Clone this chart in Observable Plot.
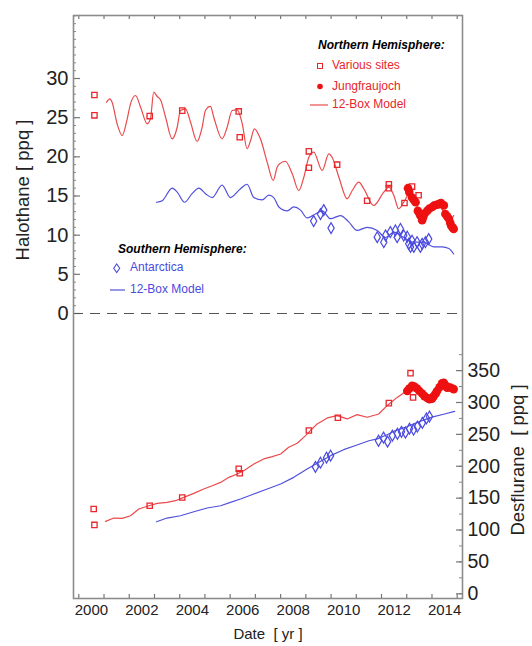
<!DOCTYPE html>
<html>
<head>
<meta charset="utf-8">
<script src="https://cdn.jsdelivr.net/npm/d3@7"></script>
<script src="https://cdn.jsdelivr.net/npm/@observablehq/plot@0.6"></script>
<style>
  html, body { margin: 0; padding: 0; background: #fff; }
  svg { display: block; }
</style>
</head>
<body>
<div id="chart"></div>
<script>
// ---------- DATA ----------
// Halothane [ppq] — Northern Hemisphere, various sites (flask samples)
const halSites = [[2000.62,27.9],[2000.62,25.3],[2002.81,25.2],[2004.10,25.9],[2006.34,25.8],[2006.38,22.5],[2009.12,20.7],[2009.12,18.6],[2010.24,19.0],[2011.43,14.4],[2012.29,16.5],[2012.29,16.0],[2012.91,14.1],[2013.21,16.2],[2013.47,15.1]];
// Halothane — Jungfraujoch in-situ
const halJFJ = [[2013.05,16.0],[2013.10,15.5],[2013.21,14.8],[2013.28,14.5],[2013.35,14.2],[2013.44,13.1],[2013.50,12.8],[2013.54,12.5],[2013.61,11.9],[2013.65,12.3],[2013.72,12.8],[2013.81,13.1],[2013.90,13.4],[2014.01,13.6],[2014.10,13.8],[2014.21,13.9],[2014.30,14.0],[2014.36,14.1],[2014.47,13.8],[2014.53,12.7],[2014.60,12.4],[2014.67,12.1],[2014.72,11.6],[2014.76,11.2],[2014.81,11.0],[2014.86,10.8]];
// Halothane — 12-box model, Northern Hemisphere
const halNModel = [[2001.10,26.98],[2001.23,27.41],[2001.32,26.98],[2001.52,24.22],[2001.72,22.72],[2001.92,24.86],[2002.05,26.77],[2002.25,27.83],[2002.45,26.34],[2002.71,24.22],[2002.84,24.86],[2002.97,28.25],[2003.11,27.70],[2003.24,27.28],[2003.44,25.06],[2003.70,22.30],[2003.90,23.78],[2004.03,25.92],[2004.23,26.13],[2004.43,24.42],[2004.69,21.96],[2004.89,23.78],[2005.02,25.92],[2005.22,26.43],[2005.35,25.06],[2005.68,22.30],[2005.88,23.78],[2006.08,25.92],[2006.28,26.00],[2006.48,24.22],[2006.67,21.03],[2006.81,22.09],[2006.96,23.58],[2007.20,22.30],[2007.47,19.3],[2007.71,16.98],[2007.86,18.68],[2008.00,19.2],[2008.19,19.44],[2008.46,17.84],[2008.72,15.70],[2008.92,17.40],[2009.12,19.95],[2009.31,20.59],[2009.65,18.26],[2009.91,20.39],[2010.04,19.95],[2010.31,17.40],[2010.64,14.64],[2010.84,15.70],[2011.10,16.76],[2011.30,15.92],[2011.69,13.79],[2012.09,15.49],[2012.29,16.12],[2012.49,15.06],[2012.68,13.37],[2012.88,14.21],[2013.15,15.49],[2013.60,12.5],[2014.00,13.8],[2014.20,14.0],[2014.60,12.2],[2014.70,11.8],[2014.86,12.5]];
// Halothane — Antarctica
const halAnt = [[2009.31,11.8],[2009.58,12.7],[2009.71,13.2],[2010.00,10.9],[2011.83,9.75],[2012.09,9.1],[2012.16,9.96],[2012.35,10.4],[2012.55,10.6],[2012.62,9.75],[2012.75,10.8],[2012.88,9.96],[2013.02,9.8],[2013.08,8.9],[2013.15,8.5],[2013.21,9.3],[2013.28,8.5],[2013.41,9.1],[2013.54,8.5],[2013.61,8.9],[2013.74,9.1],[2013.87,9.5]];
// Halothane — 12-box model, Southern Hemisphere
const halSModel = [[2003.08,14.2],[2003.31,14.4],[2003.70,16.0],[2003.90,15.5],[2004.19,14.2],[2004.49,15.3],[2004.76,16.0],[2005.02,15.3],[2005.29,14.8],[2005.68,16.4],[2006.01,14.8],[2006.40,15.9],[2006.67,16.5],[2006.94,14.8],[2007.27,14.5],[2007.53,15.1],[2007.73,14.8],[2007.93,13.6],[2008.26,13.1],[2008.52,13.6],[2008.79,13.2],[2009.05,12.2],[2009.38,12.7],[2009.65,13.1],[2009.98,12.1],[2010.37,12.5],[2010.70,11.7],[2011.03,10.6],[2011.43,11.0],[2011.83,10.6],[2012.16,9.7],[2012.49,10.4],[2012.88,9.7],[2013.28,9.1],[2013.67,9.1],[2014.07,8.5],[2014.40,8.5],[2014.67,8.3],[2014.86,7.6]];

// Desflurane [ppq] — various sites
const desSites = [[2000.59,133],[2000.62,108],[2002.81,138],[2004.10,151],[2006.34,196],[2006.38,189],[2009.12,256],[2010.27,276],[2012.29,299],[2013.15,346],[2013.25,308]];
// Desflurane — Jungfraujoch
const desJFJ = [[2013.02,318],[2013.10,322],[2013.21,326],[2013.30,325],[2013.41,322],[2013.50,318],[2013.61,314],[2013.70,310],[2013.81,307],[2013.90,305],[2014.00,306],[2014.07,310],[2014.15,314],[2014.20,318],[2014.30,324],[2014.40,330],[2014.47,331],[2014.53,327],[2014.60,323],[2014.67,324],[2014.75,323],[2014.86,321]];
// Desflurane — 12-box model NH
const desNModel = [[2001.06,113.5],[2001.39,118.8],[2001.72,118.2],[2002.05,122.4],[2002.38,133],[2002.78,138],[2003.11,141.8],[2003.50,143.3],[2003.83,146],[2004.16,151.2],[2004.56,157.5],[2004.95,164.4],[2005.29,169.5],[2005.62,174.7],[2005.95,182.6],[2006.28,187.9],[2006.54,193.1],[2006.94,203.6],[2007.33,211.5],[2007.67,215],[2008.00,219.3],[2008.32,229.7],[2008.66,236],[2008.99,248],[2009.18,256],[2009.45,266.4],[2009.85,275.8],[2010.24,279.4],[2010.64,274.2],[2011.03,281],[2011.43,276.8],[2011.89,282],[2012.22,295],[2012.62,308],[2013.02,318.7],[2013.50,318],[2014.00,310],[2014.40,325],[2014.86,322]];
// Desflurane — Antarctica
const desAnt = [[2009.38,199],[2009.58,205.6],[2009.82,213.5],[2009.98,216.6],[2011.88,240],[2012.08,245],[2012.24,238.6],[2012.43,248],[2012.63,251],[2012.79,254],[2012.95,252.7],[2013.11,259],[2013.27,257.5],[2013.42,262],[2013.62,268],[2013.78,275],[2013.90,278]];
// Desflurane — 12-box model SH
const desSModel = [[2003.08,113],[2003.50,118.8],[2004.03,122.4],[2004.56,128.7],[2005.09,134.5],[2005.62,138.1],[2006.01,143.3],[2006.41,148.7],[2006.94,156.5],[2007.47,164.4],[2008.00,172.2],[2008.52,182.6],[2009.05,195.8],[2009.50,206],[2010.00,217],[2010.50,226],[2011.00,233],[2011.50,240],[2011.83,243],[2012.20,249],[2012.50,255],[2013.00,262],[2013.50,270],[2014.00,277],[2014.50,282],[2014.90,286]];

// Tick values / labels
const yearTicks = d3.range(2000, 2016);           // tick marks each year
const yearLabels = [2000,2002,2004,2006,2008,2010,2012,2014];
const halMajor = [0,5,10,15,20,25,30];
const halMinor = d3.range(0, 39, 1);
const desMajor = [0,50,100,150,200,250,300,350];
const desMinor = d3.range(0, 376, 25);

// ---------- LAYOUT ----------
const W = 532, H = 646;
const mL = 73, mR = 70, mT = 15, mB = 48;
const FW = W - mL - mR, FH = H - mT - mB;
const xDomain = [1999.79, 2015.21];
// left (halothane) scale: 0 ppq at pixel 313, 7.833 px per ppq
const H0 = 313, pxH = 7.833;
const yDomain = [(H0 - (H - mB)) / pxH, (H0 - mT) / pxH];
// right (desflurane) axis: 0 ppq at pixel 593.3, 0.6377 px per ppq, expressed in halothane units
const D0 = 593.3, pxD = 0.6377;
const desToH = d => (H0 - (D0 - d * pxD)) / pxH;

const RED = "#e8262b", RED_LINE = "#ea4a4c", RED_DOT = "#ee1111";
const BLUE = "#4a4ae0", BLUE_LINE = "#5050dc";
const FONT = "'Liberation Sans', Arial, Helvetica, sans-serif";

const P = d => d[0], V = d => d[1], DV = d => desToH(d[1]);

const plot = Plot.plot({
  width: W, height: H,
  marginLeft: mL, marginRight: mR, marginTop: mT, marginBottom: mB,
  x: {domain: xDomain, axis: null},
  y: {domain: yDomain, axis: null},
  style: {fontFamily: FONT, background: "white", color: "#222", overflow: "visible"},
  marks: [
    // ticks
    Plot.tickX(yearTicks, {x: d => d, insetBottom: FH - 4, stroke: "#777", strokeWidth: 1.2}),
    Plot.tickX(yearTicks, {x: d => d, insetTop: FH - 4, stroke: "#777", strokeWidth: 1.2}),
    Plot.tickY(halMinor, {y: d => d, insetRight: FW - 3, stroke: "#888", strokeWidth: 1}),
    Plot.tickY(halMajor, {y: d => d, insetRight: FW - 7, stroke: "#777", strokeWidth: 1.2}),
    Plot.tickY(desMinor, {y: d => desToH(d), insetLeft: FW - 3, stroke: "#888", strokeWidth: 1}),
    Plot.tickY(desMajor, {y: d => desToH(d), insetLeft: FW - 6, stroke: "#777", strokeWidth: 1.2}),
    // zero line
    Plot.ruleY([0], {stroke: "#555", strokeWidth: 1.2, strokeDasharray: "10,7"}),
    // halothane
    Plot.line(halNModel, {x: P, y: V, stroke: RED_LINE, strokeWidth: 1.2, curve: "monotone-x"}),
    Plot.line(halSModel, {x: P, y: V, stroke: BLUE_LINE, strokeWidth: 1.2, curve: "monotone-x"}),
    Plot.dot(halAnt, {x: P, y: V, symbol: "diamond", r: 3.3, stroke: BLUE, fill: "none", strokeWidth: 1.2}),
    Plot.dot(halSites, {x: P, y: V, symbol: "square", r: 3.0, stroke: RED, fill: "none", strokeWidth: 1.3}),
    Plot.dot(halJFJ, {x: P, y: V, r: 4.3, fill: RED_DOT, stroke: "none"}),
    // desflurane
    Plot.line(desNModel, {x: P, y: DV, stroke: RED_LINE, strokeWidth: 1.2}),
    Plot.line(desSModel, {x: P, y: DV, stroke: BLUE_LINE, strokeWidth: 1.2}),
    Plot.dot(desAnt, {x: P, y: DV, symbol: "diamond", r: 3.3, stroke: BLUE, fill: "none", strokeWidth: 1.2}),
    Plot.dot(desSites, {x: P, y: DV, symbol: "square", r: 3.0, stroke: RED, fill: "none", strokeWidth: 1.3}),
    Plot.dot(desJFJ, {x: P, y: DV, r: 4.3, fill: RED_DOT, stroke: "none"}),
    // frame
    Plot.frame({stroke: "#8c8c8c", strokeWidth: 1.6}),
    // tick labels
    Plot.text(halMajor, {y: d => d, frameAnchor: "left", dx: -5, textAnchor: "end", text: d => String(d), fontSize: 20, fill: "#222"}),
    Plot.text(desMajor, {y: d => desToH(d), frameAnchor: "right", dx: 5, textAnchor: "start", text: d => String(d), fontSize: 19.5, fill: "#222"}),
    Plot.text(yearLabels, {x: d => d + 0.5, frameAnchor: "bottom", dy: 16, text: d => String(d), fontSize: 15, fill: "#222"}),
    Plot.text(["Date  [ yr ]"], {frameAnchor: "bottom", dy: 40, fontSize: 15, fill: "#222"})
  ]
});

document.getElementById("chart").appendChild(plot);

// ---------- titles and legends ----------
const svg = d3.select(plot);
svg.append("text").attr("transform", "translate(24,190) rotate(-90)")
  .attr("text-anchor", "middle").attr("dominant-baseline", "middle")
  .attr("font-size", 18.5).attr("font-family", FONT).attr("fill", "#222")
  .text("Halothane [ ppq ]");
svg.append("text").attr("transform", "translate(519,460) rotate(-90)")
  .attr("text-anchor", "middle").attr("dominant-baseline", "middle")
  .attr("font-size", 18.5).attr("font-family", FONT).attr("fill", "#222")
  .text("Desflurane  [ ppq ]");

function legendTitle(x, y, t) {
  svg.append("text").attr("x", x).attr("y", y).attr("dominant-baseline", "middle")
    .attr("text-anchor", "start")
    .attr("font-size", 12).attr("font-weight", "bold").attr("font-style", "italic")
    .attr("font-family", FONT).attr("fill", "#000").text(t);
}
function legendText(x, y, t, c) {
  svg.append("text").attr("x", x).attr("y", y).attr("dominant-baseline", "middle")
    .attr("text-anchor", "start")
    .attr("font-size", 12).attr("font-family", FONT).attr("fill", c).text(t);
}
legendTitle(318, 46, "Northern Hemisphere:");
svg.append("rect").attr("x", 317.5).attr("y", 63.5).attr("width", 5).attr("height", 5)
  .attr("fill", "none").attr("stroke", RED).attr("stroke-width", 1);
legendText(332, 66, "Various sites", RED);
svg.append("circle").attr("cx", 320).attr("cy", 86.5).attr("r", 2.8).attr("fill", RED_DOT);
legendText(332, 86.5, "Jungfraujoch", RED);
svg.append("line").attr("x1", 310).attr("x2", 328).attr("y1", 105).attr("y2", 105)
  .attr("stroke", RED_LINE).attr("stroke-width", 1.2);
legendText(332, 105, "12-Box Model", RED);

legendTitle(118, 250, "Southern Hemisphere:");
svg.append("path").attr("d", "M116.7,264 L119.7,268.3 L116.7,272.6 L113.7,268.3 Z")
  .attr("fill", "none").attr("stroke", BLUE).attr("stroke-width", 1.1);
legendText(130, 268.3, "Antarctica", BLUE);
svg.append("line").attr("x1", 110).attr("x2", 125).attr("y1", 290).attr("y2", 290)
  .attr("stroke", BLUE_LINE).attr("stroke-width", 1.2);
legendText(130, 290, "12-Box Model", BLUE);
</script>
</body>
</html>
